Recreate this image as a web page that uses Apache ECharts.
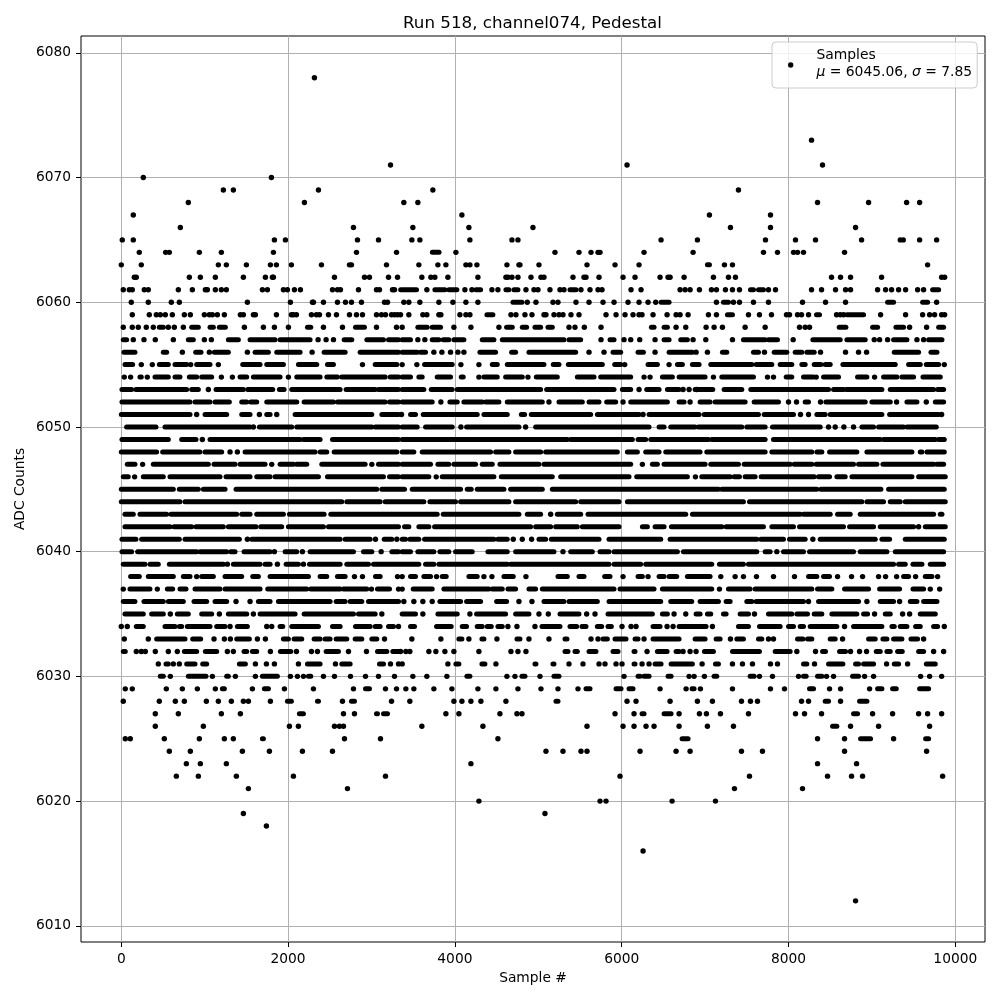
<!DOCTYPE html>
<html>
<head>
<meta charset="utf-8">
<title>Run 518, channel074, Pedestal</title>
<script src="https://cdn.jsdelivr.net/npm/echarts@6/dist/echarts.min.js"></script>
<style>
html, body { margin: 0; padding: 0; background: #fff; }
#chart { width: 1000px; height: 1000px; }
</style>
</head>
<body>
<div id="chart"></div>
<script>
var titleText = 'Run 518, channel074, Pedestal';
var xName = 'Sample #';
var yName = 'ADC Counts';
var xTicks = [0, 2000, 4000, 6000, 8000, 10000];
var yTicks = [6010, 6020, 6030, 6040, 6050, 6060, 6070, 6080];

// Samples per ADC level. A number is one dot,
// [a, b] is a stretch where the dots overlap into a solid bar and can't be told apart.
var s6078 = [2316];
var s6073 = [8276];
var s6071 = [3228, 6064, 8408];
var s6070 = [264, 1800];
var s6069 = [1224, 1344, 2364, 3736, 7400];
var s6068 = [804, 2196, 3388, 3556, 8348, 8960, 9416, 9572];
var s6067 = [144, 4084, 7052, 7784];
var s6066 = [708, 2784, 3496, 4168, 4936, 7304, 7784, 8804];
var s6065 = [12, 144, 1836, 1968, 2832, 3084, 3484, 3580, 4180, 4684, 4756, 6472, 6908, 7724, 8084, 8324, 8876, 9340, 9376, 9572, 9776];
var s6064 = [216, 532, 576, 936, 1200, 1824, 2820, 3300, [3730, 3810], 4012, 5200, 5488, 5632, 5716, 5740, 6268, 6856, 7700, 7868, 8060, 8108, 8180, 8672];
var s6063 = [0, 240, 1164, 1260, 1500, 1788, 1860, 2040, 2400, 2736, 2760, 3180, 3568, 3796, 3892, 4132, 4180, 4264, 4624, 4768, 4780, 5008, 5584, 5920, 6208, [7028, 7052], 7232, 7328, 9668];
var s6062 = [156, 180, 816, 948, 1128, 1464, 1728, 1812, 1824, 2556, 2916, 2976, 3204, 3312, 3604, 3712, 3760, 3916, 4276, 4612, 4636, 4684, 4756, 4912, 5032, 5068, 5416, 5548, 5572, 5728, 6016, 6160, 6460, 6556, 6580, 6748, 7100, 7280, 7364, 8516, 8624, 8744, 9116, 9836, 9872];
var s6061 = [24, 96, 132, 276, 324, 684, 852, 1008, 1032, 1128, 1200, 1260, 1692, 1752, 1944, 1992, 2076, 2148, 2532, 2592, 2628, 2844, 3060, 3096, 3252, 3276, [3350, 3540], 3664, [3760, 3880], [3928, 4024], 4120, 4204, [4252, 4308], 4444, 4516, [4612, 4648], [4708, 4756], 4852, 4948, 4996, 5140, 5260, 5308, [5380, 5452], 5512, 5620, 5716, 5764, 6112, 6232, 6700, 6760, 6820, 6932, 7076, 7136, 7244, 7328, 7412, [7544, 7580], [7640, 7700], 7760, 7844, 8276, 8396, 8564, 8684, 8744, 9068, 9164, 9236, 9320, 9404, 9548, 9620, [9728, 9800]];
var s6060 = [120, 324, 600, 696, 1512, 2028, 2292, 2304, 2424, 2592, 2688, 2760, 2880, 3156, 3192, 3388, 3448, 3580, 3808, 3976, 4132, 4276, [4696, 4804], 4868, 4972, 5176, 5236, 5452, 5608, 5776, 5908, 6076, 6208, 6316, 6408, [6472, 6568], 7136, [7220, 7280], 7340, 7412, 7580, 7760, 8168, 8444, 8684, [9188, 9260], [9608, 9668], 9776];
var s6059 = [132, 336, 420, 468, 528, 612, 756, 828, 996, 1056, 1092, 1152, 1236, 1428, 1464, 1584, 1608, 1860, 2040, 2064, 2100, 2280, 2340, 2376, 2484, 2580, 2736, 2820, 2892, 3060, 3120, 3168, 3240, 3276, 3312, 3348, 3448, 3616, 3664, 3808, 3832, 4060, 4132, 4180, [4384, 4456], 4672, 4732, 4840, 4924, 5068, 5092, 5188, 5248, 5296, 5392, 5488, 5812, 5932, 6040, 6136, 6208, 6244, 6376, 6544, 6652, 6700, 6796, 7040, 7136, [7268, 7328], 7520, 7652, 7796, 7976, 8012, 8108, 8156, 8240, [8336, 8372], 8576, 8620, 8660, [8700, 8900], 9104, 9404, 9608, 9692, 9752, 9836, 9872];
var s6058 = [24, 132, 204, 300, 384, [456, 504], 564, 636, 744, [844, 924], [1064, 1104], [1176, 1248], 1476, 1704, 1836, 2004, [2232, 2272], 2424, 2652, [2808, 2916], 3060, 3300, 3368, [3556, 3668], [3728, 3828], 3988, 4192, 4528, [4620, 4688], [4808, 4860], [4960, 5028], [5116, 5168], 5368, 5440, 5552, 5752, [6356, 6388], [6508, 6548], 6652, 6768, 7012, 7108, 7208, 7480, 7720, 8132, 8200, 8252, [8608, 8688], [9008, 9068], [9288, 9380], 9452, 9656, [9800, 9860]];
var s6057 = [[24, 64], 144, 272, 408, 624, [804, 864], 996, 1080, [1284, 1404], [1544, 1844], [1904, 2264], 2360, 2456, 2544, [2672, 2764], [2944, 3144], [3204, 3324], [3368, 3468], 3556, 3640, [3728, 3808], [3860, 3928], [3988, 4108], [4328, 4468], [4568, 5308], [5368, 5508], 5752, [5860, 5908], 6028, 6108, 6216, 6400, [6508, 6568], [6708, 6788], 6856, 7008, 7328, [7460, 7720], [7760, 7868], 8056, [8292, 8620], [8700, 8920], 9028, 9092, 9188, [9260, 9420], 9540, 9620, [9680, 9840]];
var s6056 = [[32, 164], [504, 544], 732, [892, 956], 1056, [1116, 1284], 1512, [1604, 1764], [1864, 2144], 2288, [2432, 2684], [2864, 3324], [3368, 3548], [3588, 3648], 3748, 3844, 3948, 4036, 4108, [4300, 4488], [4680, 4728], [4888, 5448], 5608, 5788, [5896, 5988], [6196, 6260], 6400, [6568, 6848], 6892, 7028, [7208, 7260], [7580, 7640], 7712, [7828, 7980], [8080, 8160], [8220, 8308], 8384, 8684, 8840, 8936, [9268, 9560], [9708, 9780]];
var s6055 = [[44, 136], 240, 372, [456, 564], [644, 784], 832, [904, 1064], 1164, [1456, 1664], [1744, 1944], [2124, 2344], [2472, 2544], 2892, [3044, 3304], 3368, 3544, [3636, 3968], 4072, 4288, [4448, 4508], [4628, 5068], [5180, 5248], [5360, 5768], [5916, 5988], 6036, [6316, 6428], 6568, [6668, 6728], [6848, 6928], [7068, 7560], [7612, 7800], [7900, 8040], [8160, 8200], [8308, 8388], [8440, 8500], [8652, 9280], [9440, 9580], [9652, 9800], 9868];
var s6054 = [36, 112, [224, 240], 312, [404, 564], [644, 704], [816, 904], [964, 1084], 1200, 1332, [1424, 1504], [1584, 1904], 2004, [2104, 2384], [2464, 2592], [2644, 3164], [3224, 3324], [3368, 3468], [3568, 3608], [3788, 3948], [4076, 4100], 4288, [4348, 4508], [4608, 4808], 4876, [4976, 5228], [5468, 5668], [5748, 6108], 6268, 6340, [6488, 6608], [6688, 7000], 7100, [7200, 7580], 7748, 7820, [7972, 8040], [8180, 8300], 8332, [8420, 8600], [8828, 8940], 9032, [9140, 9300], [9360, 9500], [9612, 9820]];
var s6053 = [[8, 124], [176, 784], [844, 924], 1044, [1136, 1464], [1516, 1816], [1896, 1952], [2044, 2624], [2696, 3044], [3084, 3324], [3368, 3628], [3716, 3968], [4028, 5028], [5100, 5908], [6008, 6108], 6208, [6300, 6448], [6548, 6688], 6736, 6808, 6900, [6880, 7092], [7228, 7440], [7548, 8480], [8540, 8660], [8692, 9120], [9220, 9740], [9788, 9860]];
var s6052 = [[8, 824], [884, 1064], [1124, 1296], [1444, 1504], [1552, 1624], [1744, 2104], [2192, 2544], [2592, 3164], [3216, 3324], [3368, 3728], 3832, [3940, 4028], [4108, 4328], [4368, 4528], [4628, 5048], 5128, [5248, 5528], [5608, 5728], [5820, 5928], 6016, [6108, 6548], [6688, 6748], 6820, [6940, 7060], [7120, 7480], [7588, 7880], 8000, 8096, [8200, 8240], 8384, [8448, 8920], [9000, 9220], 9296, [9420, 9540], 9652, [9760, 9860]];
var s6051 = [[0, 824], 904, [1004, 1264], [1444, 1544], 1656, [1744, 1784], 1864, [2084, 3004], [3124, 3324], 3360, [3468, 3528], [3620, 4268], [4348, 4628], [4796, 4836], [4916, 5628], [5708, 6208], 6256, [6328, 6928], [6988, 7640], [7708, 8060], 8144, 8240, [8340, 8440], [8500, 9120], [9212, 9800], 9836];
var s6050 = [[64, 416], [524, 1544], 1584, [1656, 2044], [2104, 3004], [3044, 3324], [3368, 3548], [3648, 3968], 4072, [4140, 4768], 4848, [4968, 6328], [6448, 6508], [6588, 6880], [6920, 7440], [7500, 7720], [7808, 8380], 8480, 8560, 8664, 8780, [8880, 9020], [9080, 9380], [9420, 9772]];
var s6049 = [[8, 564], [724, 896], 972, [1064, 2144], [2184, 2384], [2532, 3324], [3368, 5348], [5388, 6128], [6196, 6288], [6348, 7040], [7080, 7720], [7820, 9100], [9140, 9760], [9800, 9868]];
var s6048 = [[0, 424], [496, 944], [1004, 1204], 1304, 1392, [1484, 2324], [2384, 2464], [2552, 3304], [3368, 3508], [3608, 4428], [4488, 4648], [4728, 5028], [5088, 5948], [6068, 6188], [6288, 6448], [6528, 6940], [7020, 7720], [7800, 8280], [8340, 8400], [8492, 8820], [8940, 9480], [9580, 9600], [9660, 9868]];
var s6047 = [[72, 164], 256, [384, 1044], [1112, 1364], [1424, 1724], 1804, [1904, 2064], [2104, 2224], [2404, 2924], 3004, [3084, 3324], [3368, 3708], [3796, 3928], [3988, 4248], [4328, 4448], [4540, 5008], [5068, 6108], 6248, [6368, 6428], [6508, 7000], [7068, 7400], [7468, 8020], [8068, 8280], [8332, 8780], [8840, 9060], [9132, 9740], [9780, 9860]];
var s6046 = [[24, 84], 160, [264, 504], [584, 1184], [1256, 1544], [1624, 1784], [1844, 2364], [2472, 3144], [3216, 3324], [3368, 3688], 3776, [3848, 4468], [4556, 5168], [5268, 6088], [6180, 6788], 6884, [6960, 7300], [7348, 7412], [7480, 7600], [7672, 8308], [8360, 8492], [8580, 8680], [8760, 9480], [9560, 9880]];
var s6045 = [[0, 624], [696, 924], [984, 1244], [1376, 3064], [3124, 3396], [3488, 4068], [4148, 4196], [4268, 4588], [4668, 5048], [5168, 7160], [7200, 8340], [8388, 9108], [9200, 9868]];
var s6044 = [[0, 704], [764, 2644], [2704, 3104], [3164, 3628], [3700, 4008], [4068, 4648], [4728, 5448], [5508, 5968], [6068, 7460], [7532, 8880], [8940, 9140], [9220, 9340], [9400, 9880]];
var s6043 = [[44, 144], [224, 544], [596, 1384], [1444, 1544], [1624, 1944], [2016, 2432], [2512, 3788], [3860, 4768], [4868, 5028], 5148, [5228, 5508], [5596, 6768], [6848, 8140], [8180, 8500], [8588, 8740], [8860, 9740], [9820, 9840]];
var s6042 = [[44, 584], [632, 844], [896, 1224], [1284, 1616], [1672, 1924], [2004, 2424], [2484, 3324], [3396, 3448], [3568, 3688], [3756, 4908], [4968, 5148], [5208, 5468], [5528, 5968], [6248, 6308], [6400, 6508], [6596, 7200], [7252, 7700], [7800, 8060], [8132, 8660], [8732, 9020], [9100, 9500], 9560, [9640, 9880]];
var s6041 = [[8, 176], [244, 696], [764, 1416], 1512, [1564, 2624], [2684, 2984], 3048, [3152, 3244], 3304, [3368, 3408], [3460, 3568], [3636, 4468], [4516, 4628], 4700, 4808, 4920, [5008, 5088], [5156, 5728], [5848, 6468], [6580, 7620], [7668, 7940], [8012, 8200], 8292, [8380, 9040], [9120, 9212], [9400, 9868]];
var s6040 = [[8, 124], [196, 904], [944, 1264], [1312, 1364], [1472, 1784], 1836, [1964, 2104], 2172, [2264, 2784], [2904, 3004], 3116, [3244, 3324], [3368, 3468], [3556, 3748], [3820, 3928], [4008, 4208], [4396, 4628], [4728, 5188], 5296, [5388, 5648], [5740, 5848], [5908, 6668], [6740, 7620], [7720, 7780], 7860, [7940, 8180], [8252, 8780], [8860, 9180], [9280, 9860]];
var s6039 = [[24, 284], [344, 444], [576, 1224], 1272, [1344, 1664], [1724, 1784], 1872, [1976, 2124], 2184, [2256, 2624], [2704, 2964], [3024, 3568], [3648, 3748], [3808, 4628], [4668, 5848], [5908, 6228], [6288, 7080], [7172, 7460], [7520, 9260], [9320, 9400], [9492, 9600], [9700, 9860]];
var s6038 = [[112, 216], [324, 624], [744, 824], 904, [964, 1104], [1244, 1444], [1576, 1644], [1784, 2244], [2384, 2464], [2592, 2684], 2796, 2892, [3048, 3104], 3312, 3368, [3468, 3528], [3628, 3708], 3780, [3848, 3896], [4168, 4268], 4348, 4444, [4588, 4700], 4852, [5236, 5348], [5488, 5548], [5796, 5860], 6016, [6196, 6248], 6316, [6448, 6508], [6568, 6660], [6788, 7060], 7188, 7360, 7460, 7616, 7820, 8072, [8240, 8340], [8420, 8492], 8588, 8756, 8888, 9080, 9164, 9296, [9380, 9440], 9524, [9640, 9720], 9788];
var s6037 = [24, [104, 344], 432, [552, 616], [704, 776], [884, 1184], [1244, 1664], [1756, 2224], [2272, 2624], [2664, 2944], 3000, [3072, 3216], 3324, 3368, [3500, 3728], [3868, 4408], [4448, 4568], [4636, 4728], [4888, 4968], [5048, 5908], [5980, 6388], [6488, 7080], 7172, [7280, 7540], [7600, 8280], [8348, 8520], [8672, 8960], [9092, 9332], [9492, 9620], 9700, 9812];
var s6036 = [[24, 164], [272, 504], [564, 744], [872, 1024], [1124, 1264], 1376, 1544, [1644, 1784], [1884, 2504], [2576, 2684], [2744, 2884], [2964, 3324], 3388, 3508, 3616, 3728, [3820, 4068], [4140, 4308], [4500, 4620], 4768, 4924, [5068, 5308], [5368, 5708], [5848, 6468], [6588, 6840], [6940, 7160], [7252, 7300], [7500, 7560], [7612, 8180], 8240, [8360, 8840], 8940, [9100, 9260], 9332, [9460, 9540], [9620, 9780]];
var s6035 = [[44, 264], [364, 504], 588, [672, 804], [964, 1084], 1176, [1284, 1504], 1584, [1664, 2084], [2192, 2784], [2844, 3044], 3124, [3368, 3528], 3616, [3796, 4028], 4180, [4260, 4608], [4728, 4888], 5008, 5120, [5260, 5488], 5580, 5680, [5836, 6368], [6488, 6548], 6628, 6768, [6892, 6940], [7028, 7068], [7220, 7252], [7420, 7520], 7592, [7760, 8040], [8100, 8228], [8308, 8400], [8520, 8820], [8900, 8948], 9032, [9160, 9220], 9368, 9452, [9580, 9760]];
var s6034 = [0, 72, [180, 264], [524, 644], [696, 724], [792, 1064], [1144, 1244], 1304, [1392, 1512], 1744, 1804, [1904, 1936], [2044, 2364], [2532, 2624], [2808, 2984], [3044, 3104], [3204, 3264], 3324, [3468, 3516], [3780, 3956], [4088, 4140], [4268, 4328], [4388, 4436], [4516, 4568], 4636, 4744, 4960, [5044, 5260], [5380, 5460], [5524, 5572], [5708, 5760], [5836, 5876], 6004, 6112, 6172, [6376, 6460], 6544, 6616, [6688, 7012], 7088, [7400, 7520], [7652, 7900], [8000, 8060], [8140, 8180], [8260, 8580], 8672, [8780, 9120], [9240, 9268], [9340, 9420], [9524, 9580], [9740, 9788], 9868];
var s6033 = [36, 324, [424, 764], [856, 952], 1112, 1236, 1308, [1384, 1536], 1632, 1728, [1944, 2004], [2072, 2164], [2312, 2384], [2444, 2504], [2576, 2704], [2804, 2884], [3004, 3064], 3156, 3484, 3832, [4048, 4084], 4168, [4324, 4348], 4504, [4744, 4780], 4888, 5128, [5320, 5344], 5632, 5716, [5776, 5828], [5920, 6052], [6160, 6196], 6268, [6376, 6688], [6880, 7000], [7132, 7180], 7304, [7380, 7460], [7640, 7680], 7760, 7820, [8108, 8172], [8228, 8280], [8500, 8560], 8648, [8960, 9040], [9132, 9180], [9260, 9360], [9468, 9548], 9620];
var s6032 = [[24, 48], 180, 240, 288, 408, 564, 672, [756, 904], [1008, 1144], 1272, 1344, [1472, 1504], [1572, 1624], 1788, [1908, 2032], 2100, 2280, 2352, [2456, 2604], 2724, 2940, [3072, 3184], [3256, 3324], 3348, 3412, 3460, 3688, 3772, 3880, 3988, 4288, 4672, 4756, 4852, [5320, 5356], [5440, 5468], [5608, 5692], [5896, 5956], [6148, 6160], 6304, [6428, 6544], [6652, 6688], 6736, 6820, 6892, [6992, 7100], [7328, 7652], [7840, 8020], 8100, 8324, [8408, 8444], [8612, 8684], 8744, 8852, 8936, [9052, 9100], [9180, 9220], [9308, 9364], [9560, 9620], 9740, 9860];
var s6031 = [444, [536, 564], 624, 696, [784, 884], [976, 1024], [1416, 1488], 1608, 1740, 1836, 2124, [2232, 2384], 2568, [2644, 2744], [3096, 3144], 3228, 3324, 3368, 3916, [4012, 4048], [4324, 4360], 4492, [4960, 4972], [5176, 5188], 5368, 5536, 5728, 5800, 5932, 6004, [6148, 6160], 6244, 6328, [6400, 6472], [6592, 6848], 6964, [7124, 7160], 7328, 7448, 7568, 7784, 7868, [8180, 8220], 8312, [8480, 8652], [8804, 8840], [8900, 9020], 9176, [9268, 9320], 9428, [9652, 9760]];
var s6030 = [[468, 504], 588, [804, 1016], 1092, [1264, 1284], 1368, 1608, [1692, 1872], 2028, 2112, 2184, [2244, 2272], 2424, 2556, 2748, 2928, 3084, 3276, 3496, 3664, 3904, [4144, 4180], 4624, 4720, [4804, 4840], 5020, [5188, 5248], 6028, [6196, 6220], [6268, 6328], [6556, 6592], 6808, 6868, 6992, [7108, 7140], [7540, 7588], 7652, 7808, 8120, [8180, 8212], [8348, 8400], 8456, 8540, [8768, 8840], 8912, 9020, 9584, 9692, 9836];
var s6029 = [48, 132, 540, 732, 912, 1128, [1212, 1236], 1572, [1716, 1764], 1956, 2304, 2784, [2928, 2976], 3168, 3300, 3412, 3508, 3748, 3964, 4276, 4492, 4756, 5032, 5236, 5476, [5572, 5620], [5932, 5992], [6088, 6136], 6460, 6772, [6844, 6868], 6944, 7328, 7784, 7952, [8252, 8300], 8492, 8624, 8972, [9068, 9120], [9248, 9292], [9572, 9680]];
var s6028 = [24, 456, 648, 756, 1020, 1164, 1320, 1464, 1524, 1788, [1992, 2040], [2352, 2364], 2652, [2760, 2796], 3240, 3460, 3988, 4084, 4192, 4312, 4612, [5212, 5236], 6064, 6172, 6580, 6908, 7088, 7436, 7544, 7628, 8156, 8240, [8440, 8480], 8624, [8852, 8940]];
var s6027 = [408, 684, 1200, 1428, [2136, 2184], 2664, 2796, [3060, 3072], [3144, 3192], 3892, 4048, 4540, 4744, 4804, 5920, 6148, [6244, 6268], [6508, 6592], 6688, 6932, 7016, 7184, 7520, 8084, 8192, 8396, [8780, 8828], 9008, 9248, 9560, 9668, 9836];
var s6026 = [408, 984, 2016, 2124, 2556, 2616, 2664, 3604, 4336, 5584, 6016, 6148, 6292, 6388, 6688, 7028, 7340, [8528, 8580], 8744, 9080, 9692];
var s6025 = [48, 108, 516, 936, 1236, 1344, [1692, 1704], 2676, 3108, 4516, [6724, 6796], 8348, 8672, [8864, 8984], 9260, [9644, 9680]];
var s6024 = [576, 828, 1452, 1776, 2172, 2532, 5092, 5296, 5512, 5584, 6220, 6652, 6820, 7436, 7688, 8672, 9656];
var s6023 = [780, 948, 1260, 4192, 8348, 8816];
var s6022 = [660, 924, 1380, 2064, 3168, 5980, 7532, 8468, 8756, 8888, 9848];
var s6021 = [1524, 2712, 7352, 8168];
var s6020 = [4288, 5740, 5812, 6604, 7124];
var s6019 = [1464, 5080];
var s6018 = [1740];
var s6016 = [6256];
var s6012 = [8804];

var levels = [6078, 6073, 6071, 6070, 6069, 6068, 6067, 6066, 6065, 6064, 6063, 6062, 6061, 6060, 6059, 6058, 6057, 6056, 6055, 6054, 6053, 6052, 6051, 6050, 6049, 6048, 6047, 6046, 6045, 6044, 6043, 6042, 6041, 6040, 6039, 6038, 6037, 6036, 6035, 6034, 6033, 6032, 6031, 6030, 6029, 6028, 6027, 6026, 6025, 6024, 6023, 6022, 6021, 6020, 6019, 6018, 6016, 6012];
var samplesByLevel = [s6078, s6073, s6071, s6070, s6069, s6068, s6067, s6066, s6065, s6064, s6063, s6062, s6061, s6060, s6059, s6058, s6057, s6056, s6055, s6054, s6053, s6052, s6051, s6050, s6049, s6048, s6047, s6046, s6045, s6044, s6043, s6042, s6041, s6040, s6039, s6038, s6037, s6036, s6035, s6034, s6033, s6032, s6031, s6030, s6029, s6028, s6027, s6026, s6025, s6024, s6023, s6022, s6021, s6020, s6019, s6018, s6016, s6012];

var dots = [];
var bars = [];
levels.forEach(function (level, i) {
    samplesByLevel[i].forEach(function (s) {
        if (Array.isArray(s)) {
            bars.push([s[0], s[1], level]);
        } else {
            dots.push([s, level]);
        }
    });
});

var font = '"DejaVu Sans"';
var fontSize = 13.8;
var dotSize = 5.4;

var myChart = echarts.init(document.getElementById('chart'), null, {renderer: 'canvas'});
myChart.setOption({
    animation: false,
    backgroundColor: '#fff',
    textStyle: {fontFamily: font},
    title: {
        text: titleText,
        left: 527.5,
        top: 10,
        textAlign: 'center',
        textStyle: {fontFamily: font, fontSize: 16.7, fontWeight: 'normal', color: '#000'}
    },
    grid: {
        show: true,
        left: 81,
        right: 15,
        top: 36,
        bottom: 58,
        borderColor: '#000',
        borderWidth: 1,
        containLabel: false,
        outerBoundsMode: 'none'
    },
    legend: {
        data: ['Samples'],
        left: 772,
        top: 42,
        padding: [6, 5, 0, 16],
        itemWidth: dotSize,
        itemHeight: dotSize,
        icon: 'circle',
        backgroundColor: 'rgba(255,255,255,0.8)',
        borderColor: '#ccc',
        borderWidth: 1,
        borderRadius: 4,
        formatter: function () {
            // the short last line pushes the handle below the middle of the two text lines
            return '{p|}{n|Samples}\n{p|}{i|μ}{n| = 6045.06, }{i|σ}{n| = 7.85}\n{e|}';
        },
        textStyle: {
            rich: {
                p: {width: 18},
                e: {height: 3, lineHeight: 3},
                n: {fontFamily: font, fontSize: 13.9, color: '#000', lineHeight: 17},
                i: {fontFamily: font, fontSize: 13.9, fontStyle: 'italic', color: '#000', lineHeight: 17}
            }
        }
    },
    xAxis: {
        type: 'value',
        min: -483,
        max: 10356,
        name: xName,
        nameLocation: 'middle',
        nameGap: 29,
        nameTextStyle: {fontFamily: font, fontSize: fontSize, color: '#000'},
        axisLine: {show: false, onZero: false},
        axisTick: {show: true, length: 5, customValues: xTicks, lineStyle: {color: '#000', width: 1}},
        axisLabel: {
            show: true, customValues: xTicks, margin: 10, fontFamily: font, fontSize: fontSize, color: '#000',
            formatter: function (v) { return String(v); }
        },
        splitLine: {show: true, lineStyle: {color: '#b0b0b0', width: 1}}
    },
    yAxis: {
        type: 'value',
        min: 6008.7,
        max: 6081.35,
        name: yName,
        nameLocation: 'middle',
        nameGap: 54,
        nameMoveOverlap: false,
        nameTextStyle: {fontFamily: font, fontSize: fontSize, color: '#000'},
        axisLine: {show: false, onZero: false},
        axisTick: {show: true, length: 5, customValues: yTicks, lineStyle: {color: '#000', width: 1}},
        axisLabel: {
            show: true, customValues: yTicks, margin: 10, fontFamily: font, fontSize: fontSize, color: '#000',
            formatter: function (v) { return String(v); }
        },
        splitLine: {show: true, lineStyle: {color: '#b0b0b0', width: 1}}
    },
    series: [
        {
            name: 'Samples',
            type: 'scatter',
            symbol: 'circle',
            symbolSize: dotSize,
            itemStyle: {color: '#000', opacity: 1},
            data: dots,
            silent: true,
            z: 3
        },
        {
            name: 'Samples (overlapping)',
            type: 'custom',
            silent: true,
            z: 3,
            encode: {x: [0, 1], y: 2},
            data: bars,
            renderItem: function (params, api) {
                var a = api.coord([api.value(0), api.value(2)]);
                var b = api.coord([api.value(1), api.value(2)]);
                return {
                    type: 'line',
                    shape: {x1: a[0], y1: a[1], x2: b[0], y2: b[1]},
                    style: {stroke: '#000', lineWidth: 5, lineCap: 'round'}
                };
            }
        }
    ]
});
</script>
</body>
</html>
